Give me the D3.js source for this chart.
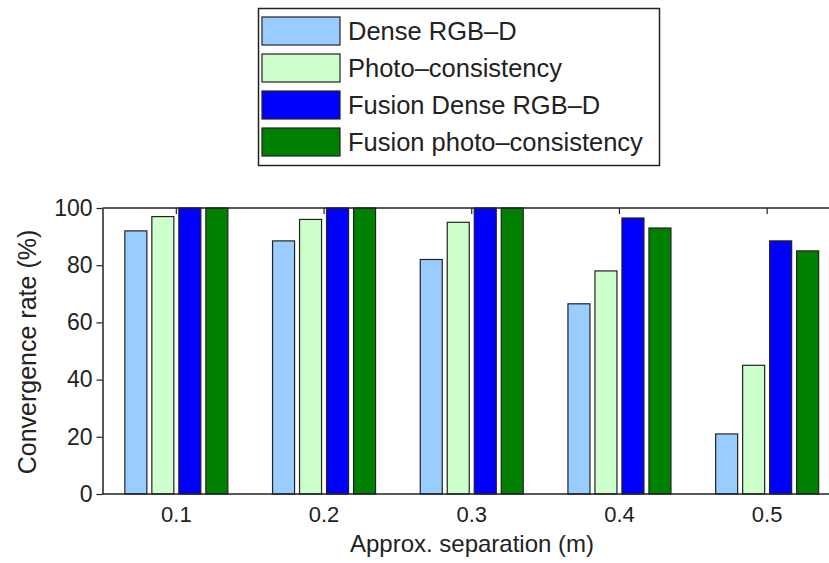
<!DOCTYPE html>
<html lang="en">
<head>
<script src="https://d3js.org/d3.v7.min.js"></script>
<style>
  body { margin: 0; background: #fff; }
  text { font-family: "Liberation Sans", Arial, sans-serif; fill: #222; }
  .bar { stroke: #222; stroke-width: 1.2px; }
</style>
</head>
<body>
<svg id="chart" width="829" height="563"></svg>
<script>
// data
const separations = ["0.1", "0.2", "0.3", "0.4", "0.5"];
const seriesNames = ["Dense RGB\u2013D", "Photo\u2013consistency", "Fusion Dense RGB\u2013D", "Fusion photo\u2013consistency"];
const seriesColors = ["#99ccff", "#ccffcc", "#0000ff", "#008000"];
const denseRGBD = [92, 88.5, 82, 66.5, 21];
const photoConsistency = [97, 96, 95, 78, 45];
const fusionDense = [100, 100, 100, 96.5, 88.5];
const fusionPhoto = [100, 100, 100, 93, 85];
const yTicks = [0, 20, 40, 60, 80, 100];

const values = [denseRGBD, photoConsistency, fusionDense, fusionPhoto];

const svg = d3.select("#chart");
const plotLeft = 102.5, plotTop = 208, plotBottom = 494, plotRight = 841;

const x = d3.scaleBand().domain(separations).range([plotLeft, plotRight]).padding(0);
const xs = d3.scaleBand().domain(seriesNames).range([-54, 54])
             .paddingInner(0.185).paddingOuter(0.0925);
const y = d3.scaleLinear().domain([0, 100]).range([plotBottom, plotTop]);

// bars
const rows = [];
separations.forEach((s, i) => {
  seriesNames.forEach((n, j) => rows.push({ s: s, n: n, v: values[j][i], c: seriesColors[j] }));
});

svg.append("g").selectAll("rect")
   .data(rows)
   .join("rect")
   .attr("class", "bar")
   .attr("x", d => x(d.s) + x.bandwidth() / 2 + xs(d.n))
   .attr("width", xs.bandwidth())
   .attr("y", d => y(d.v))
   .attr("height", d => y(0) - y(d.v))
   .attr("fill", d => d.c);

// axes frame
const frame = svg.append("g").attr("stroke", "#222").attr("stroke-width", 1.5);
frame.append("line").attr("x1", plotLeft).attr("x2", 829).attr("y1", plotTop).attr("y2", plotTop);
frame.append("line").attr("x1", plotLeft).attr("x2", 829).attr("y1", plotBottom).attr("y2", plotBottom);

// top inward ticks on x
svg.append("g").selectAll("line.tt")
   .data(separations).join("line")
   .attr("x1", d => x(d) + x.bandwidth() / 2).attr("x2", d => x(d) + x.bandwidth() / 2)
   .attr("y1", plotTop).attr("y2", plotTop + 6)
   .attr("stroke", "#222").attr("stroke-width", 1.2);

// x axis labels
const xAxis = svg.append("g")
   .attr("transform", `translate(0,${plotBottom})`)
   .call(d3.axisBottom(x).tickSize(0).tickPadding(12));
xAxis.select(".domain").remove();
xAxis.selectAll("text").attr("font-size", 22).attr("font-family", "Liberation Sans, Arial, sans-serif").attr("fill", "#222");

// y axis
const yAxis = svg.append("g")
   .attr("transform", `translate(${plotLeft},0)`)
   .call(d3.axisLeft(y).tickValues(yTicks).tickSize(6).tickSizeOuter(0).tickPadding(4));
yAxis.select(".domain").attr("stroke", "#222").attr("stroke-width", 1.5);
yAxis.selectAll(".tick line").attr("stroke", "#222").attr("stroke-width", 1.2);
yAxis.selectAll("text").attr("font-size", 23).attr("font-family", "Liberation Sans, Arial, sans-serif").attr("fill", "#222");

// axis titles
svg.append("text")
   .attr("x", 472).attr("y", 552)
   .attr("text-anchor", "middle")
   .attr("font-size", 24)
   .text("Approx. separation (m)");

svg.append("text")
   .attr("transform", "translate(36,352) rotate(-90)")
   .attr("text-anchor", "middle")
   .attr("font-size", 25)
   .text("Convergence rate (%)");

// legend
const legend = svg.append("g");
legend.append("rect")
   .attr("x", 258.5).attr("y", 8.5).attr("width", 401).attr("height", 157)
   .attr("fill", "#fff").attr("stroke", "#222").attr("stroke-width", 1.5);

const item = legend.selectAll("g.item")
   .data(seriesNames).join("g")
   .attr("class", "item")
   .attr("transform", (d, i) => `translate(262,${17 + i * 37})`);

item.append("rect")
   .attr("width", 78).attr("height", 28)
   .attr("fill", (d, i) => seriesColors[i])
   .attr("stroke", "#222").attr("stroke-width", 1.2);

item.append("text")
   .attr("x", 86).attr("y", 14).attr("dy", "0.36em")
   .attr("font-size", 25.5)
   .text(d => d);
</script>
</body>
</html>
